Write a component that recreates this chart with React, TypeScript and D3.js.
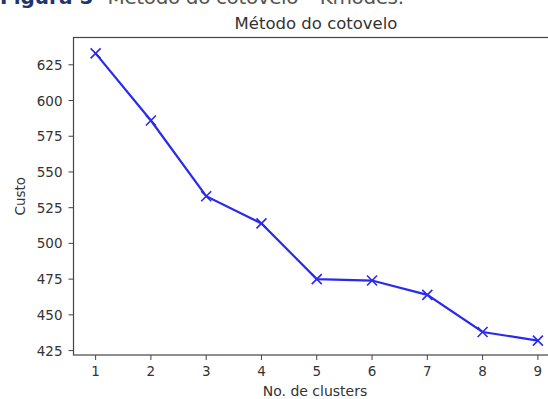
import React from 'react'
import * as d3 from 'd3'

const clusters = [1, 2, 3, 4, 5, 6, 7, 8, 9]
const custo = [633, 586, 533, 514, 475, 474, 464, 438, 432]
const yTicks = [425, 450, 475, 500, 525, 550, 575, 600, 625]
const title = 'Método do cotovelo'
const xLabel = 'No. de clusters'
const yLabel = 'Custo'

const W = 548
const H = 399
const font = '"DejaVu Sans", sans-serif'

export default function App() {
  const left = 73.5
  const right = 560
  const top = 37.5
  const bottom = 355

  const x = d3.scaleLinear().domain([0.6, 9.4]).range([left, right])
  const y = d3.scaleLinear().domain([421.9, 644.1]).range([bottom, top])

  const line = d3.line<number>()
    .x((d, i) => x(clusters[i]))
    .y((d) => y(d))

  const m = 5

  return (
    <div style={{ position: 'absolute', left: 0, top: 0 }}>
      <svg width={W} height={H} style={{ display: 'block', background: '#fff' }}>
        {/* caption of the page, cropped at the top */}
        <text x={0} y={4} fontFamily={font} fontSize={20} fontWeight="bold" fill="#1d3570">Figura 5</text>
        <text x={92} y={4} fontFamily={font} fontSize={20} fill="#555" textLength={312}>–  Método do cotovelo – Kmodes.</text>

        <text x={316} y={29} textAnchor="middle" fontFamily={font} fontSize={16.5} fill="#333">{title}</text>

        <rect x={left} y={top} width={right - left} height={bottom - top} fill="none" stroke="#444" strokeWidth={1.2} />

        {yTicks.map((t) => (
          <g key={t}>
            <line x1={left - 5} x2={left} y1={y(t)} y2={y(t)} stroke="#444" strokeWidth={1} />
            <text x={left - 11} y={y(t)} dy="0.37em" textAnchor="end" fontFamily={font} fontSize={13.5} fill="#333">{t}</text>
          </g>
        ))}
        {clusters.map((c) => (
          <g key={c}>
            <line x1={x(c)} x2={x(c)} y1={bottom} y2={bottom + 5} stroke="#444" strokeWidth={1} />
            <text x={x(c)} y={bottom + 21} textAnchor="middle" fontFamily={font} fontSize={13.5} fill="#333">{c}</text>
          </g>
        ))}

        <text x={315} y={396} textAnchor="middle" fontFamily={font} fontSize={14} fill="#333">{xLabel}</text>
        <text transform={`translate(25,${(top + bottom) / 2}) rotate(-90)`} textAnchor="middle" fontFamily={font} fontSize={13.5} fill="#333">{yLabel}</text>

        <path d={line(custo) || ''} fill="none" stroke="#2a2aee" strokeWidth={2.2} />
        {custo.map((v, i) => (
          <path
            key={i}
            d={`M${x(clusters[i]) - m},${y(v) - m}L${x(clusters[i]) + m},${y(v) + m}M${x(clusters[i]) - m},${y(v) + m}L${x(clusters[i]) + m},${y(v) - m}`}
            stroke="#2a2aee"
            strokeWidth={1.6}
          />
        ))}
      </svg>
    </div>
  )
}
